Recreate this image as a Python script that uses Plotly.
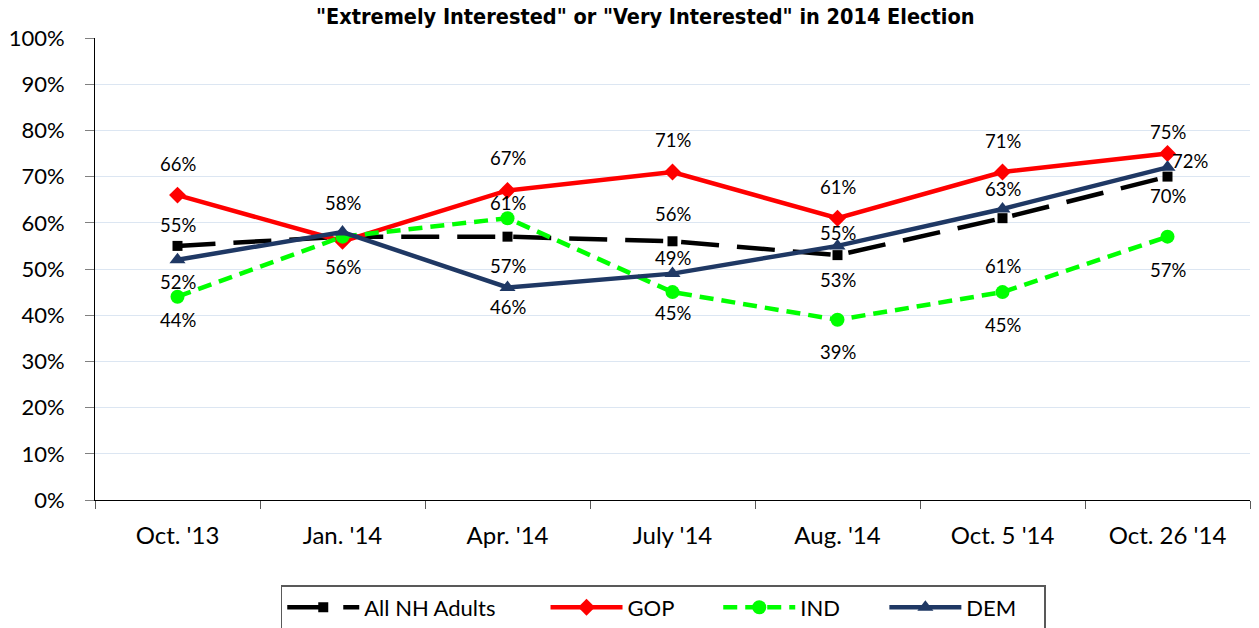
import plotly.graph_objects as go

categories = ["Oct. '13", "Jan. '14", "Apr. '14", "July '14", "Aug. '14", "Oct. 5 '14", "Oct. 26 '14"]
all_nh = [55, 57, 57, 56, 53, 61, 70]
gop = [66, 56, 67, 71, 61, 71, 75]
ind = [44, 57, 61, 45, 39, 45, 57]
dem = [52, 58, 46, 49, 55, 63, 72]
series_names = ["All NH Adults", "GOP", "IND", "DEM"]

# label offsets (pixels; None = no label shown)
all_off = [(0, 21), None, (0, -29), (0, 27), (0, -25), (0, -48), (0, -19)]
gop_off = [(0, 31), (0, -26), (0, 32), (0, 32), (0, 31), (0, 31), (0, 22)]
ind_off = [(0, -23), None, (0, 15), (0, -21), (0, -32), (0, -33), (0, -33)]
dem_off = [(0, -22), (0, 29), (0, -20), (0, 16), (0, 13), (0, 20), (22, 6)]
# legend spacing padding (non-breaking spaces after each name)
legend_pad = [8, 7, 7, 4]

FONT = "Lato"
fig = go.Figure()

styles = [
    (dict(color="black", width=4.5, dash="38px,18px"), dict(symbol="square", size=10, color="black")),
    (dict(color="#ff0000", width=4.5), dict(symbol="diamond", size=13, color="#ff0000")),
    (dict(color="#00ff00", width=4.5, dash="14px,8px"), dict(symbol="circle", size=14, color="#00ff00")),
    (dict(color="#1f3864", width=4.5), dict(symbol="triangle-up", size=14, color="#1f3864")),
]
values = [all_nh, gop, ind, dem]
offsets = [all_off, gop_off, ind_off, dem_off]

for name, vals, (line, marker), offs, pad in zip(series_names, values, styles, offsets, legend_pad):
    fig.add_trace(go.Scatter(x=categories, y=[v / 100 for v in vals], name=name + "\u00a0" * pad,
                             mode="lines+markers", line=line, marker=marker))
    for c, v, o in zip(categories, vals, offs):
        if o is None:
            continue
        fig.add_annotation(x=c, y=v / 100, text=f"{v}%", showarrow=False,
                           xshift=o[0], yshift=o[1],
                           font=dict(family=FONT, size=18.5, color="black"))

fig.update_layout(
    width=1259, height=628,
    margin=dict(l=95, r=9, t=38, b=128, autoexpand=False),
    paper_bgcolor="white", plot_bgcolor="white",
    title=dict(text='<b>"Extremely Interested" or "Very Interested" in 2014 Election</b>',
               x=0.5125, xanchor="center", y=0.974, yanchor="middle",
               font=dict(family="DejaVu Sans Condensed", size=21.5, color="black")),
    font=dict(family=FONT, color="black"),
    legend=dict(orientation="h", x=0.492, xanchor="center", y=-0.184, yanchor="top",
                bordercolor="#595959", borderwidth=1.5,
                font=dict(family=FONT, size=22), itemwidth=72),
    showlegend=True,
)
fig.update_xaxes(type="category", range=[-0.5, 6.5], showgrid=False,
                 showline=True, linecolor="black", linewidth=1,
                 ticks="outside", tickson="boundaries", ticklen=8, tickcolor="#595959",
                 ticklabelstandoff=14,
                 tickfont=dict(family=FONT, size=24))
fig.update_yaxes(range=[0, 1], dtick=0.1, tickformat=".0%",
                 showgrid=True, gridcolor="#dce6f2", gridwidth=1,
                 showline=True, linecolor="black", linewidth=1,
                 ticks="outside", ticklen=9, tickcolor="#808080",
                 ticklabelstandoff=16,
                 tickfont=dict(family=FONT, size=22), zeroline=False)

fig.write_html("out.html", post_script="document.body.style.margin='0';",
               config={"displayModeBar": False})
